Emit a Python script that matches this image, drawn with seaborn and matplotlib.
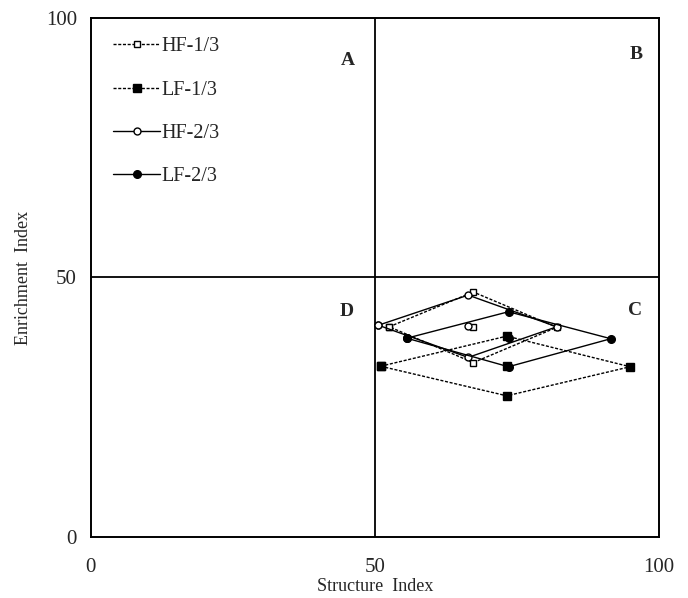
import pandas as pd
import matplotlib.pyplot as plt
import seaborn as sns

# diamond points: left, top, right, bottom  (+ centre)
series = ['HF-1/3', 'LF-1/3', 'HF-2/3', 'LF-2/3']

hf13_x = [52.5, 67.3, 82.0, 67.3]
hf13_y = [40.5, 47.2, 40.4, 33.6]
hf13_c = [67.3, 40.4]

lf13_x = [51.0, 73.2, 94.9, 73.2]
lf13_y = [32.9, 38.7, 32.8, 27.2]
lf13_c = [73.2, 32.9]

hf23_x = [50.6, 66.4, 82.0, 66.4]
hf23_y = [40.8, 46.6, 40.5, 34.6]
hf23_c = [66.4, 40.7]

lf23_x = [55.6, 73.5, 91.5, 73.5]
lf23_y = [38.3, 43.4, 38.2, 32.8]
lf23_c = [73.5, 38.3]

quad_labels = ['A', 'B', 'C', 'D']
quad_x = [45.2, 96.0, 95.8, 45.0]
quad_y = [91.8, 92.9, 43.7, 43.4]

xs = [hf13_x, lf13_x, hf23_x, lf23_x]
ys = [hf13_y, lf13_y, hf23_y, lf23_y]
cs = [hf13_c, lf13_c, hf23_c, lf23_c]

styles = {
    'HF-1/3': dict(marker='s', mfc='white', ls=(0, (2.2, 1.2)), ms=5),
    'LF-1/3': dict(marker='s', mfc='black', ls=(0, (2.2, 1.2)), ms=5.5),
    'HF-2/3': dict(marker='o', mfc='white', ls='-', ms=5),
    'LF-2/3': dict(marker='o', mfc='black', ls='-', ms=5.5),
}

sns.set_style('white')
plt.rcParams['font.family'] = ['Liberation Serif', 'DejaVu Serif']

fig = plt.figure(figsize=(6.88, 5.98), dpi=100)
ax = fig.add_axes([0.132, 0.102, 0.826, 0.868])

ax.axvline(50, color='black', lw=1.3, zorder=1)
ax.axhline(50, color='black', lw=1.3, zorder=1)

for name, x, y, c in zip(series, xs, ys, cs):
    st = styles[name]
    df = pd.DataFrame({'x': x + [x[0]], 'y': y + [y[0]]})
    sns.lineplot(data=df, x='x', y='y', sort=False, estimator=None, ax=ax,
                 color='black', lw=1.0, linestyle=st['ls'], marker=st['marker'],
                 markersize=st['ms'], markerfacecolor=st['mfc'],
                 markeredgecolor='black', markeredgewidth=1.0, label=name, zorder=3)
    ax.plot([c[0]], [c[1]], marker=st['marker'], ms=st['ms'], mfc=st['mfc'],
            mec='black', mew=1.0, ls='none', zorder=3)

for t, x, y in zip(quad_labels, quad_x, quad_y):
    ax.text(x, y, t, ha='center', va='center', fontsize=14, fontweight='bold')

ax.set_xlim(0, 100)
ax.set_ylim(0, 100)
ax.set_xticks([0, 50, 100])
ax.set_yticks([0, 50, 100])
ax.tick_params(length=0, labelsize=15)
ax.tick_params(axis='x', pad=15)
ax.tick_params(axis='y', pad=10)
for s in ax.spines.values():
    s.set_color('black')
    s.set_linewidth(1.4)

ax.set_xlabel('Structure  Index', fontsize=13, labelpad=1)
ax.set_ylabel('Enrichment  Index', fontsize=13, labelpad=10)

ax.legend(loc='upper left', frameon=False, fontsize=14.5, handlelength=2.3,
          handletextpad=0.1, labelspacing=1.2, borderaxespad=0.3,
          bbox_to_anchor=(0.015, 0.99))

fig.savefig('out.png', dpi=100)
